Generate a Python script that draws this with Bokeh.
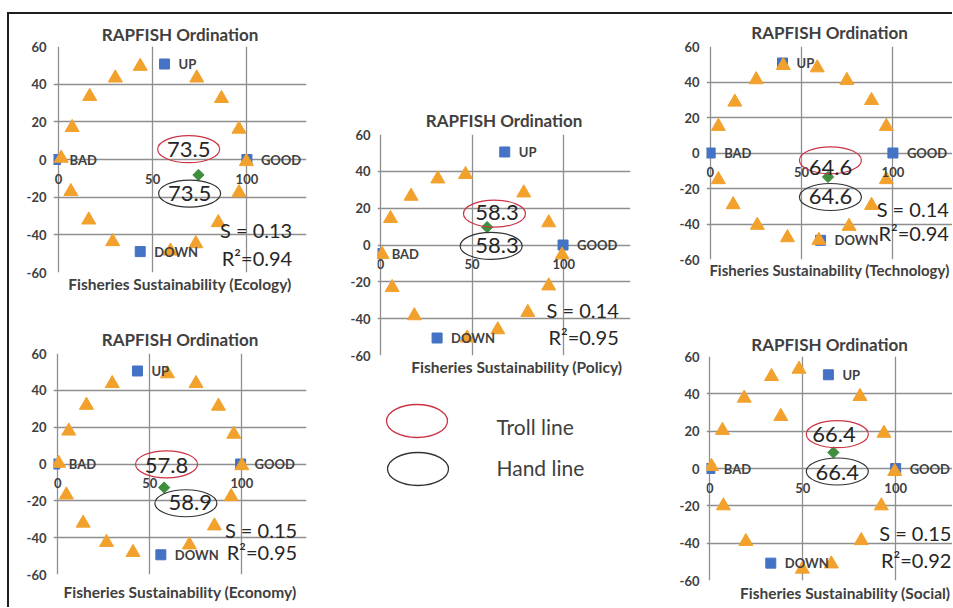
from bokeh.plotting import figure
from bokeh.models import Range1d, FixedTicker, Title, Spacer
from bokeh.layouts import row, column
from bokeh.embed import file_html
from bokeh.resources import INLINE

FONT = "Lato"
TXT = "#404040"
NUM = "#262626"
GRID = "#8F8F8F"
BLUE = "#4472C4"
ORANGE = "#F2A12C"
GREEN = "#3F8F3F"
RED_E = "#CC3344"
BLK_E = "#333333"
FRAME = "#1E1E1E"

# ---------------- shared axis data ----------------
x_ticks = [0, 50, 100]
x_tick_labels = ["0", "50", "100"]
y_ticks = [-60, -40, -20, 0, 20, 40, 60]
y_tick_labels = ["-60", "-40", "-20", "0", "20", "40", "60"]
anchor_labels = ["BAD", "GOOD", "UP", "DOWN"]

# ---------------- Ecology ----------------
eco_tri_x = [1.5, 7.3, 16.6, 30.2, 43.4, 73.4, 86.5, 95.8, 99.7, 95.8, 84.8, 72.9, 59.4, 28.8, 16.1, 6.6]
eco_tri_y = [0.7, 17.0, 33.5, 43.3, 49.5, 43.3, 32.4, 16.1, -1.1, -17.6, -33.5, -44.7, -48.6, -43.6, -32.1, -17.0]
eco_anc_x = [-1.5, 100.0, 56.3, 43.4]
eco_anc_y = [0.0, 0.0, 50.7, -48.9]
eco_status = [74.3, -8.2]
eco_troll = "73.5"
eco_hand = "73.5"
eco_s = "S = 0.13"
eco_r2 = "R²=0.94"

# ---------------- Policy ----------------
pol_tri_x = [0.9, 5.5, 16.7, 31.3, 46.4, 78.2, 91.8, 99.1, 91.8, 80.4, 64.0, 47.3, 18.5, 6.4]
pol_tri_y = [-5.1, 14.4, 26.5, 35.9, 38.3, 28.3, 12.1, -5.4, -22.2, -36.6, -46.0, -50.5, -38.4, -23.1]
pol_anc_x = [-1.5, 99.6, 67.8, 30.9]
pol_anc_y = [-4.7, 0.0, 50.5, -50.5]
pol_status = [58.2, 9.7]
pol_troll = "58.3"
pol_hand = "58.3"
pol_s = "S = 0.14"
pol_r2 = "R²=0.95"

# ---------------- Technology ----------------
tec_tri_x = [4.5, 4.5, 13.5, 25.2, 40.0, 58.6, 74.8, 88.3, 96.4, 96.4, 88.3, 76.0, 59.5, 42.3, 25.8, 12.6]
tec_tri_y = [-15.0, 15.0, 28.7, 41.3, 49.3, 48.0, 40.9, 29.6, 15.0, -15.0, -29.5, -41.3, -49.2, -47.7, -40.7, -29.1]
tec_anc_x = [0.0, 100.0, 39.6, 60.4]
tec_anc_y = [0.0, 0.0, 50.7, -49.2]
tec_status = [64.5, -13.5]
tec_troll = "64.6"
tec_hand = "64.6"
tec_s = "S = 0.14"
tec_r2 = "R²=0.94"

# ---------------- Economy ----------------
ecn_tri_x = [0.5, 6.0, 15.6, 29.6, 59.6, 75.1, 87.3, 95.6, 100.0, 94.2, 85.1, 71.5, 40.9, 26.5, 13.8, 4.7]
ecn_tri_y = [0.4, 17.9, 31.9, 43.7, 49.0, 43.7, 31.4, 16.2, -0.9, -17.7, -33.6, -43.9, -48.0, -42.6, -32.1, -16.8]
ecn_anc_x = [-1.6, 99.3, 43.3, 56.0]
ecn_anc_y = [0.0, 0.0, 50.5, -49.3]
ecn_status = [57.8, -12.8]
ecn_troll = "57.8"
ecn_hand = "58.9"
ecn_s = "S = 0.15"
ecn_r2 = "R²=0.95"

# ---------------- Social ----------------
soc_tri_x = [0.9, 6.8, 18.5, 33.2, 48.0, 38.2, 80.8, 93.7, 99.5, 92.3, 81.5, 65.4, 49.8, 19.4, 7.3]
soc_tri_y = [1.1, 20.4, 37.7, 49.3, 53.2, 27.9, 38.6, 18.9, -1.6, -20.0, -38.6, -51.1, -53.9, -39.1, -20.0]
soc_anc_x = [0.0, 100.0, 63.8, 32.8]
soc_anc_y = [0.0, 0.0, 50.2, -50.7]
soc_status = [66.5, 8.6]
soc_troll = "66.4"
soc_hand = "66.4"
soc_s = "S = 0.15"
soc_r2 = "R²=0.92"

legend_labels = ["Troll line", "Hand line"]


def make_chart(axis_title, tri_x, tri_y, anc_x, anc_y, status, troll, hand, s_txt, r2_txt,
               size, borders, xr, troll_pos, hand_pos, stat_pos, t_off, b_off,
               b_font="15.5px", b_align="center", b_shift=0):
    W, H = size
    bl, br, bt, bb = borders
    p = figure(width=W, height=H, x_range=Range1d(*xr), y_range=Range1d(-60, 60),
               x_axis_location=None, output_backend="svg", toolbar_location=None,
               min_border_left=bl, min_border_right=br, min_border_top=bt, min_border_bottom=bb)
    p.outline_line_color = None
    p.background_fill_color = "white"
    p.border_fill_color = "white"

    p.title.text = "RAPFISH Ordination"
    p.title.align = "center"
    p.title.text_font = FONT
    p.title.text_font_size = "17px"
    p.title.text_font_style = "bold"
    p.title.text_color = TXT
    p.title.standoff = t_off

    p.add_layout(Title(text=axis_title, align=b_align, text_font=FONT, text_font_size=b_font,
                       text_font_style="bold", text_color=TXT, standoff=b_off, offset=b_shift),
                 "below")

    p.yaxis.ticker = FixedTicker(ticks=y_ticks)
    p.yaxis.major_label_overrides = dict(zip(y_ticks, y_tick_labels))
    p.yaxis.axis_line_color = None
    p.yaxis.major_tick_line_color = None
    p.yaxis.minor_tick_line_color = None
    p.yaxis.major_tick_out = 0
    p.yaxis.major_label_standoff = 7
    p.yaxis.major_label_text_font = FONT
    p.yaxis.major_label_text_font_size = "13px"
    p.yaxis.major_label_text_font_style = "bold"
    p.yaxis.major_label_text_color = TXT

    p.ygrid.ticker = FixedTicker(ticks=y_ticks)
    p.xgrid.ticker = FixedTicker(ticks=x_ticks)
    for g in (p.xgrid, p.ygrid):
        g.grid_line_color = GRID
        g.grid_line_width = 1.3

    p.scatter(anc_x, anc_y, marker="square", size=10, color=BLUE)
    p.scatter(tri_x, tri_y, marker="triangle", size=14, color=ORANGE)
    p.scatter([status[0]], [status[1]], marker="square", angle=0.785, size=8, color=GREEN)

    p.text(anc_x, anc_y, text=anchor_labels, x_offset=14, text_baseline="middle",
           text_font=dict(value=FONT), text_font_size="13px", text_font_style="bold", text_color=TXT)
    p.text(x_ticks, [0] * len(x_ticks), text=x_tick_labels, text_align="center", text_baseline="middle",
           y_offset=19, text_font=dict(value=FONT), text_font_size="13px", text_font_style="bold",
           text_color=TXT)

    p.ellipse(x=[troll_pos[0], hand_pos[0]], y=[troll_pos[1], hand_pos[1]], width=62, height=27,
              width_units="screen", height_units="screen", fill_color=None,
              line_color=[RED_E, BLK_E], line_width=1.2)
    p.text([troll_pos[2], hand_pos[2]], [troll_pos[3], hand_pos[3]], text=[troll, hand],
           text_align="center", text_baseline="middle", text_font=dict(value=FONT),
           text_font_size="22px", text_color=NUM)
    p.text([stat_pos[0], stat_pos[0]], [stat_pos[1], stat_pos[2]], text=[s_txt, r2_txt],
           text_align="right", text_baseline="middle", text_font=dict(value=FONT),
           text_font_size="20px", text_color=NUM)
    return p


eco = make_chart("Fisheries Sustainability (Ecology)", eco_tri_x, eco_tri_y, eco_anc_x, eco_anc_y,
                 eco_status, eco_troll, eco_hand, eco_s, eco_r2,
                 (316, 286), (43, 17, 32, 28), (-2.6, 131.6),
                 (69.1, 5.5, 69.1, 5.5), (69.6, -18.1, 69.6, -18.1), (124.0, -37.6, -52.1), 4, 1)
ecn = make_chart("Fisheries Sustainability (Economy)", ecn_tri_x, ecn_tri_y, ecn_anc_x, ecn_anc_y,
                 ecn_status, ecn_troll, ecn_hand, ecn_s, ecn_r2,
                 (316, 307), (44, 19, 53, 32), (-2.3, 135.1),
                 (59.1, -0.2, 59.1, -1.0), (69.6, -21.3, 72.0, -21.0), (130.0, -35.7, -48.0), 8, 13)
pol = make_chart("Fisheries Sustainability (Policy)", pol_tri_x, pol_tri_y, pol_anc_x, pol_anc_y,
                 pol_status, pol_troll, pol_hand, pol_s, pol_r2,
                 (315, 277), (52, 10, 30, 25), (-1.6, 136.4),
                 (62.2, 17.0, 63.6, 17.5), (60.4, -0.5, 63.6, 0.0), (130.0, -35.4, -49.8), 8, 1,
                 b_align="right", b_shift=8)
tec = make_chart("Fisheries Sustainability (Technology)", tec_tri_x, tec_tri_y, tec_anc_x, tec_anc_y,
                 tec_status, tec_troll, tec_hand, tec_s, tec_r2,
                 (312, 268), (63, 0, 32, 23), (-2.0, 132.6),
                 (65.8, -4.1, 65.8, -7.9), (65.8, -24.8, 65.8, -24.4), (130.6, -31.3, -45.0), 7, -2,
                 b_font="15px")
soc = make_chart("Fisheries Sustainability (Social)", soc_tri_x, soc_tri_y, soc_anc_x, soc_anc_y,
                 soc_status, soc_troll, soc_hand, soc_s, soc_r2,
                 (312, 325), (66, 0, 74, 27), (-1.8, 130.6),
                 (68.6, 18.4, 66.8, 18.0), (68.6, -1.6, 68.6, -2.1), (130.0, -34.3, -48.9), 4, 2,
                 b_align="right", b_shift=2)

# ---------------- legend panel (frame aligned with the Policy chart above) ----------------
leg = figure(width=315, height=227, x_range=Range1d(377, 630), y_range=Range1d(607, 380),
             x_axis_location=None, y_axis_location=None, output_backend="svg", toolbar_location=None,
             min_border_left=52, min_border_right=10, min_border_top=0, min_border_bottom=0)
leg.outline_line_color = None
leg.xgrid.visible = False
leg.ygrid.visible = False
leg.ellipse(x=[416.5, 417.5], y=[420.5, 468.5], width=61, height=33, width_units="screen",
            height_units="screen", fill_color=None, line_color=[RED_E, BLK_E], line_width=1.3)
leg.text([496, 496], [426, 467], text=legend_labels, text_baseline="middle",
         text_font=dict(value=FONT), text_font_size="21px", text_color=TXT)

content = row(column(eco, ecn),
              column(Spacer(width=315, height=89), pol, leg),
              column(tec, soc))

framed = column(Spacer(width=945, height=2, styles={"background-color": FRAME}),
                row(Spacer(width=2, height=593, styles={"background-color": FRAME}), content))

layout = column(Spacer(width=952, height=12),
                row(Spacer(width=7, height=595), framed))

open("out.html", "w").write(file_html(layout, INLINE))
